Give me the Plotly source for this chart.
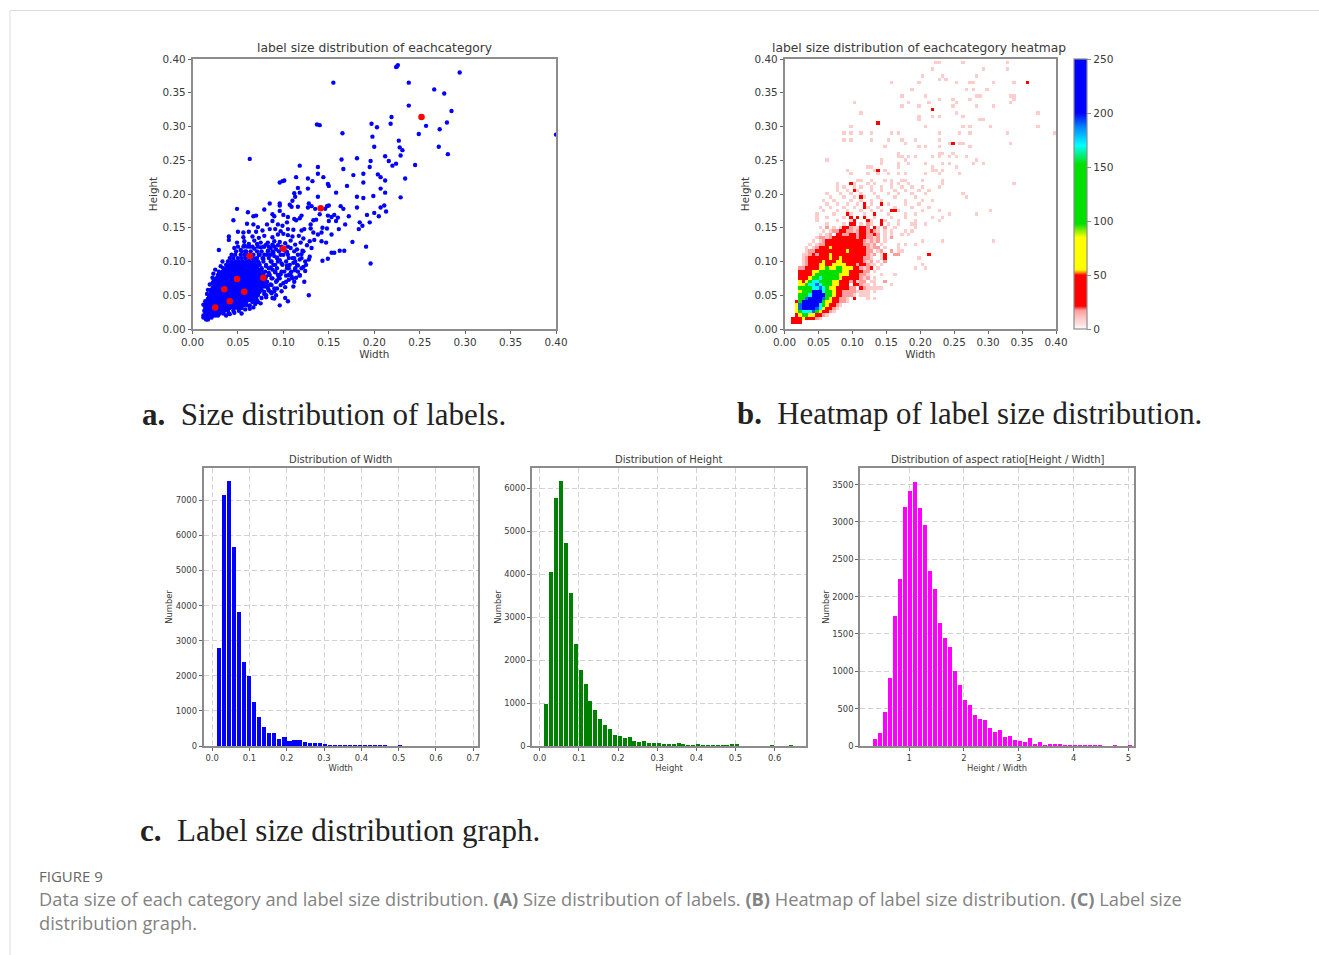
import plotly.graph_objects as go

W, H = 1319, 955

# ---------- Panel a: scatter ----------
scatter_sparse = [
(.224,.388),(.226,.391),(.225,.389),(.294,.380),(.155,.365),(.238,.365),(.266,.355),(.277,.349),(.238,.331),(.285,.323),
(.219,.314),(.218,.304),(.280,.306),(.197,.304),(.203,.299),(.257,.301),(.272,.296),(.137,.303),(.140,.302),(.165,.290),
(.249,.289),(.400,.288),(.198,.285),(.227,.279),(.200,.270),(.271,.270),(.228,.269),(.231,.265),(.063,.252),(.229,.257),
(.212,.256),(.281,.259),(.164,.251),(.181,.253),(.196,.249),(.216,.249),(.224,.245),(.220,.242),(.245,.243),(.118,.242),
(.138,.240),(.195,.240),(.166,.237),(.138,.230),(.188,.230),(.204,.229),(.177,.228),(.207,.225),(.114,.225),(.144,.225),
(.234,.223),(.127,.223),(.132,.219),(.212,.220),(.096,.217),(.099,.219),(.101,.220),(.188,.217),(.149,.215),(.150,.212),
(.170,.212),(.116,.209),(.127,.208),(.207,.208),(.118,.202),(.112,.201),(.158,.202),(.212,.202),(.199,.197),(.181,.196),
(.138,.196),(.229,.195),(.188,.194),(.110,.190),(.113,.196),(.085,.186),(.096,.186),(.096,.183),(.128,.186),(.131,.182),
(.107,.184),(.109,.181),(.116,.181),(.127,.180),(.135,.178),(.148,.182),(.150,.183),(.146,.178),(.163,.182),(.166,.178),
(.181,.180),(.200,.172),(.205,.167),(.207,.180),(.211,.183),(.213,.174),(.049,.178),(.061,.173),(.079,.177),(.070,.168),
(.067,.167),(.088,.170),(.090,.167),(.096,.175),(.100,.169),(.105,.166),(.120,.168),(.112,.163),(.114,.161),(.118,.164),
(.133,.161),(.136,.162),(.140,.170),(.149,.168),(.153,.166),(.156,.169),(.160,.165),(.158,.160),(.172,.167),(.192,.169),
(.045,.161),(.088,.160),(.150,.160),(.168,.155),(.184,.158),(.187,.153),(.195,.158),(.183,.148),(.161,.148),(.060,.156),
(.067,.155),(.072,.151),(.082,.155),(.094,.155),(.099,.153),(.104,.158),(.130,.155),(.143,.150),(.142,.143),(.148,.149),
(.050,.144),(.056,.143),(.062,.144),(.070,.144),(.077,.146),(.085,.148),(.091,.148),(.097,.145),(.123,.148),(.120,.146),
(.105,.148),(.111,.147),(.130,.149),(.133,.143),(.138,.140),(.153,.140),(.040,.137),(.040,.132),(.056,.136),(.066,.137),
(.073,.135),(.079,.138),(.088,.136),(.094,.140),(.100,.141),(.105,.139),(.110,.137),(.117,.138),(.122,.134),(.129,.130),
(.134,.132),(.142,.130),(.147,.128),(.176,.129),(.191,.122),(.049,.128),(.057,.130),(.062,.126),(.068,.131),(.075,.128),
(.083,.128),(.090,.130),(.096,.129),(.102,.127),(.108,.131),(.113,.125),(.119,.128),(.126,.124),(.131,.120),(.162,.116),
(.167,.116),(.153,.113),(.156,.113),(.143,.101),(.149,.104),(.196,.097),(.129,.107),(.128,.103),(.124,.100),(.120,.111),
(.115,.118),(.108,.120),(.092,.118),(.086,.120),(.079,.122),(.068,.119),(.029,.117),(.046,.120),(.111,.098),(.116,.094),
(.104,.094),(.096,.102),(.086,.100),(.090,.108),(.082,.110),(.076,.115),(.100,.110),(.122,.092),(.124,.086),(.123,.070),
(.106,.073),(.112,.070),(.111,.063),(.100,.068),(.095,.076),(.088,.088),(.101,.085),(.128,.050),(.096,.035),(.102,.046),
(.105,.041),(.088,.046),(.092,.050),(.084,.057),(.086,.066),(.093,.060),(.081,.069),(.071,.042),(.067,.032),(.054,.023),
(.073,.098),(.078,.104),(.081,.093),(.084,.083),(.079,.077),(.075,.088),(.071,.093),(.069,.104),(.074,.110),(.083,.116),
(.089,.113),(.093,.106),(.098,.097),(.091,.095),(.086,.091),(.091,.084),(.097,.081),(.093,.072),(.087,.075),(.083,.064),
(.077,.063),(.073,.056),(.079,.052),(.076,.046),(.069,.050),(.064,.043),(.060,.035),(.058,.029),(.051,.027),(.046,.024),
(.041,.022),(.103,.079),(.108,.083),(.113,.087),(.106,.090),(.110,.105),(.104,.114),(.098,.119),(.094,.124),(.088,.125),
(.081,.125),(.075,.121),(.071,.126),(.063,.122),(.057,.124),(.053,.117),(.058,.115),(.118,.103),(.121,.116),(.118,.079),
(.114,.076),(.109,.078),(.102,.062),(.098,.056),(.090,.056),(.087,.053),(.081,.047),(.075,.038),(.069,.037),(.063,.030),
(.033,.100),(.031,.093),(.025,.088),(.023,.082),(.022,.076),(.019,.066),(.017,.058),(.016,.052),(.014,.041),(.012,.036),
]
dense_rows = {
.014: [.015,.017],
.017: [.012,.015,.018,.021],
.020: [.012,.015,.019,.022,.025,.028,.037],
.023: [.014,.017,.020,.023,.027,.030,.034,.040],
.027: [.013,.016,.020,.024,.027,.031,.035,.039,.045],
.031: [.014,.018,.021,.025,.029,.033,.037,.041,.046,.050,.054],
.033: [.016,.019,.023,.027,.031,.035,.039,.043,.048,.052],
.035: [.014,.017,.021,.024,.028,.032,.036,.040,.044,.048,.052,.056,.063],
.038: [.015,.019,.022,.026,.030,.034,.038,.042,.046,.050,.054,.058],
.040: [.016,.019,.023,.027,.031,.035,.039,.043,.047,.051,.055,.059,.066,.072],
.043: [.018,.022,.026,.030,.034,.038,.042,.046,.050,.054,.058,.062,.067],
.045: [.017,.021,.024,.028,.032,.036,.040,.044,.048,.052,.056,.060,.064,.070,.090],
.048: [.019,.022,.026,.030,.034,.038,.042,.046,.050,.054,.058,.062,.066,.070],
.050: [.018,.023,.027,.031,.035,.039,.043,.047,.051,.055,.059,.063,.067,.072,.081],
.053: [.020,.024,.028,.032,.036,.040,.044,.048,.052,.056,.060,.064,.068,.072],
.055: [.021,.025,.029,.033,.037,.041,.045,.049,.053,.057,.061,.065,.069,.074,.079,.086],
.058: [.020,.024,.027,.031,.035,.039,.043,.047,.051,.055,.059,.063,.067,.071,.076],
.060: [.022,.026,.030,.034,.038,.042,.046,.050,.054,.058,.062,.066,.070,.075,.083,.090],
.063: [.023,.027,.031,.035,.039,.043,.047,.051,.055,.059,.063,.067,.071,.076,.080],
.065: [.025,.029,.033,.037,.041,.045,.049,.053,.057,.061,.065,.069,.073,.078,.087,.097],
.068: [.022,.025,.029,.033,.037,.041,.045,.049,.053,.057,.061,.065,.069,.073,.077],
.070: [.023,.027,.031,.035,.039,.043,.047,.051,.055,.059,.063,.067,.071,.076,.082,.092,.103],
.073: [.025,.029,.033,.037,.041,.045,.049,.053,.057,.061,.065,.069,.073,.078],
.075: [.026,.030,.034,.038,.042,.046,.050,.054,.058,.062,.066,.070,.074,.080,.088,.096,.110],
.078: [.028,.032,.036,.040,.044,.048,.052,.056,.060,.064,.068,.072,.076,.081],
.080: [.028,.032,.036,.040,.044,.048,.052,.056,.060,.064,.068,.072,.077,.085,.094,.106,.118],
.083: [.030,.034,.038,.042,.046,.050,.054,.058,.062,.066,.070,.074,.078],
.085: [.029,.033,.037,.041,.045,.049,.053,.057,.061,.065,.069,.073,.080,.091,.098,.109,.116],
.088: [.036,.040,.044,.048,.052,.056,.060,.064,.068,.072,.076],
.090: [.034,.038,.042,.046,.050,.054,.058,.062,.066,.070,.076,.084,.093,.104,.113,.120],
.093: [.039,.043,.047,.051,.055,.059,.063,.067,.071],
.095: [.037,.041,.045,.049,.053,.057,.061,.065,.069,.074,.081,.089,.099,.107,.115,.125],
.098: [.044,.048,.052,.056,.060,.064,.068],
.100: [.039,.043,.047,.051,.055,.059,.063,.067,.072,.078,.087,.094,.103,.113],
.105: [.041,.045,.050,.054,.058,.062,.066,.071,.077,.084,.093,.106,.112,.120],
.110: [.043,.047,.053,.057,.061,.067,.073,.079,.086,.097,.105,.116],
.115: [.048,.054,.059,.064,.071,.083,.088,.095,.103,.112,.122],
.122: [.050,.056,.060,.066,.072,.078,.084,.090,.098,.105],
}
scatter_width = [p[0] for p in scatter_sparse] + [w for h, ws in dense_rows.items() for w in ws]
scatter_height = [p[1] for p in scatter_sparse] + [h for h, ws in dense_rows.items() for w in ws]
mean_width = [.025,.035,.041,.049,.057,.063,.078,.100,.141,.252]
mean_height = [.032,.059,.041,.074,.055,.108,.076,.119,.179,.314]

# ---------- Panel b: heatmap ----------
level_value = {".":0,"a":9,"b":17,"r":35,"y":70,"g":125,"c":170,"l":190,"B":225}
# rows from height 0.155 down to 0.015, columns from width 0.0125 in 0.005 steps
heat_rows = [
"..........a....a.rr.a.ba..r.a..a..",
"........a.b.a.arrbaarrb.ra.b..a...",
".........a.abbrrbbabrrbrba.a.a....",
"........a.ab.rrbbrrbrrbbrb.a.a....",
".......abbabrrrrrrrbrrbbab.a.b....",
"......a.abrrrrrrrrrrrbabab.a......",
".....a.abbrrrrrrrrrrrbbab.a......a",
"....a.abrrryrrrrrrrrrrbabb.a...a..",
"....abbrrrrrrrrryrrrrrbb.ab..b....",
"...aabrbrrryrrrrrrrrrrbab.ar..bb..",
"...abrrrrrryrryrrrrrrbba..ar......",
"...abrrrryrrryyrrrrrrbab.a.b......",
"...abrrryyrryyyyrrrbrrbaa.a.......",
"..bbrrrryygyyggyyyrrbabr.a........",
"..rrrryygggggggyyrrrrbb.a.........",
"..rrrrygggggggyyyrrrbba...a.......",
"..rrryggcgggggyrrrrrbab.a.........",
"..yrygccggggyyrrrbrabb.aa..b......",
"..yygcclcgggyyrrr.rrbaa.a.........",
"..ggggcclcgyyrrrrbb.rbaaaaa.......",
"..ygggBBBcggyrrbbbbaaaa...........",
"..gggcBBBBggyrrbbba.aaa...........",
"..gglBBBBlgyrrbba.r...a...........",
".rgBBBBBBgyyrrbba.................",
".ylBBBBBcgyrrba...................",
".ylBBBBlcyrrba....................",
".ygccclgyrrba.....................",
".ryggyyrrba.......................",
"rrryrrrba.........................",
"rrr...............................",
]
heat_sparse_pale = {
.395: [.222,.227,.262,.325], .385: [.218,.294,.325], .375: [.201,.232,.280], .370: [.228,.237],
.367: [.155,.253,.272,.278,.305,.338], .363: [.195], .355: [.187,.265,.275,.296],
.345: [.172,.207,.285,.290,.330,.335], .340: [.229,.247,.270,.336], .335: [.102,.182,.210,.252,.330],
.328: [.173,.198,.248,.285,.305], .320: [.112,.252,.370], .315: [.195,.215,.228,.263],
.308: [.197,.286,.290,.295], .302: [.095,.205,.260,.370], .298: [.208,.270,.300], .292: [.155,.225,.255],
.288: [.085,.095,.112,.125,.155,.165,.270,.326,.400], .280: [.088,.095,.128,.150,.170,.190,.225],
.273: [.175,.240,.255,.262,.330], .268: [.147,.195,.205,.228,.270], .262: [.165,.225,.232,.245],
.255: [.167,.172,.180,.190,.215,.225,.240,.250,.265], .252: [.062,.140,.175,.285],
.245: [.140,.168,.182,.205,.230,.240,.275,.293], .240: [.120,.128,.165,.215,.252],
.235: [.090,.130,.146,.215,.222,.230], .230: [.095,.120,.135,.150,.165,.175,.205,.225,.255],
.222: [.108,.113,.128,.148,.158,.172,.178,.200,.230], .217: [.075,.100,.120,.130,.155,.165,.180,.235,.335],
.210: [.078,.088,.100,.112,.125,.140,.155,.170,.185,.200,.225], .205: [.075,.090,.105,.128,.145,.160,.178,.195,.210],
.200: [.060,.080,.095,.112,.130,.150,.165,.185,.205,.262], .195: [.065,.085,.103,.118,.135,.160,.190,.265],
.190: [.055,.072,.095,.112,.127,.145,.175,.200,.215], .185: [.060,.078,.090,.108,.125,.150,.178,.195],
.180: [.050,.065,.085,.100,.120,.135,.160,.185,.210], .175: [.058,.075,.093,.110,.128,.145,.165,.200,.225,.303],
.170: [.045,.070,.095,.115,.132,.150,.175,.190,.240,.285], .165: [.046,.060,.085,.105,.130,.158,.178,.215,.235],
.160: [.048,.075,.095,.125,.148,.165,.190,.225], .155: [.185,.190,.205], .150: [.190], .145: [.175,.185],
.140: [.172,.180], .130: [.200,.230,.308], .125: [.165,.190], .115: [.165,.172], .105: [.195], .095: [.200],
.088: [.190,.205], .080: [.160], .065: [.155], .055: [.130], .047: [.130],
}
heat_sparse_red = {
.367: [.355], .303: [.137], .217: [.096], .195: [.110,.112], .180: [.118], .170: [.090,.093,.130],
.235: [.135], .112: [.213], .275: [.245], .323: [.218], .205: [.103], .185: [.115,.140], .175: [.155,.160],
.165: [.095,.108,.115], .160: [.100,.120,.145],
}
heat_x = [round(.0025 + .005 * i, 4) for i in range(80)]
heat_y = [round(.005 * i, 4) for i in range(81)]
heat_z = [[0] * 80 for _ in heat_y]
for r, row in enumerate(heat_rows):
    j = round(.155 / .005) - r
    for c, ch in enumerate(row):
        heat_z[j][c + 2] = level_value[ch]
for rows, val in ((heat_sparse_pale, 9), (heat_sparse_red, 30)):
    for yy, xs in rows.items():
        for xx in xs:
            heat_z[min(round(yy / .005), 80)][min(int(xx / .005), 79)] = val
heat_colors = [
    [0, "#ffffff"], [.02, "#ffdcdc"], [.04, "#ffc8c8"], [.07, "#ff9a9a"], [.085, "#ff0000"], [.2, "#ff0000"], [.21, "#ff9900"],
    [.22, "#ffff00"], [.34, "#ffff00"], [.39, "#00e000"], [.61, "#00e000"], [.68, "#00ffff"], [.75, "#0080ff"],
    [.8, "#0000ff"], [1, "#0000ff"],
]

# ---------- Panel c: histograms ----------
width_counts = [2790,7150,7550,5680,3830,2390,1990,1260,820,550,360,360,210,250,140,180,160,110,85,95,95,30,10,25,10,25,15,5,15,15,15,15,15,10,0,0,20]
height_counts = [980,4050,5780,6170,4730,3560,2380,1770,1450,1050,840,630,480,400,250,240,190,220,110,100,110,80,70,60,40,55,25,60,35,20,20,25,20,15,10,5,5,5,25,25,0,0,0,0,0,0,10,0,0,0,10]
ratio_counts = [90,175,450,910,1740,2240,3200,3415,3535,3190,2965,2340,2100,1650,1450,1320,1010,815,610,550,420,360,345,240,185,215,120,130,75,70,55,105,30,55,10,15,15,15,5,5,5,5,5,5,5,5,0,0,5,0,0,5]
width_bins = [round(.017 + .0135 * i, 4) for i in range(len(width_counts))]
height_bins = [round(.017 + .0125 * i, 4) for i in range(len(height_counts))]
ratio_bins = [round(.374 + .0912 * i, 4) for i in range(len(ratio_counts))]

TXT = "#3a3a3a"
SPINE = "#8c8c8c"
FONT = "DejaVu Sans"

def dom_x(a, b):
    return [a / W, b / W]

def dom_y(top, bottom):
    return [1 - bottom / H, 1 - top / H]

fig = go.Figure()
fig.add_trace(go.Scatter(x=scatter_width, y=scatter_height, mode="markers", marker=dict(color="#0000ff", size=4.4), xaxis="x", yaxis="y", showlegend=False))
fig.add_trace(go.Scatter(x=mean_width, y=mean_height, mode="markers", marker=dict(color="#ff0000", size=6.5), xaxis="x", yaxis="y", showlegend=False))
fig.add_trace(go.Heatmap(x=heat_x, y=heat_y, z=heat_z, zmin=0, zmax=250, colorscale=heat_colors, xaxis="x2", yaxis="y2", xgap=0, ygap=0,
    colorbar=dict(x=1074 / W, xanchor="left", y=1 - 329 / H, yanchor="bottom", lenmode="pixels", len=270, thicknessmode="pixels", thickness=13,
                  xpad=0, ypad=0, tickvals=[0, 50, 100, 150, 200, 250], ticks="outside", ticklen=4, tickcolor=SPINE,
                  tickfont=dict(size=10.6, color=TXT, family=FONT), outlinecolor=SPINE, outlinewidth=1.2)))
fig.add_trace(go.Bar(x=width_bins, y=width_counts, marker=dict(color="#0000ff", line_width=0), width=.0135 * .82, xaxis="x3", yaxis="y3", showlegend=False))
fig.add_trace(go.Bar(x=height_bins, y=height_counts, marker=dict(color="#008000", line_width=0), width=.0125 * .82, xaxis="x4", yaxis="y4", showlegend=False))
fig.add_trace(go.Bar(x=ratio_bins, y=ratio_counts, marker=dict(color="#ff00ff", line_width=0), width=.0912 * .82, xaxis="x5", yaxis="y5", showlegend=False))

def axis(domain, rng, title, size, dtick, fmt, anchor, standoff, grid=False):
    return dict(domain=domain, range=rng, anchor=anchor, dtick=dtick, tick0=0, tickformat=fmt,
                showline=True, mirror=True, linecolor=SPINE, linewidth=1.6,
                ticks="outside", ticklen=3, tickwidth=1, tickcolor="#666666",
                tickfont=dict(size=size, color=TXT, family=FONT),
                title=dict(text=title, font=dict(size=size, color=TXT, family=FONT), standoff=standoff),
                showgrid=grid, gridcolor="#d2d2d2", griddash="5px,3px", gridwidth=1, zeroline=False, automargin=False)

layout = dict(width=W, height=H, margin=dict(l=0, r=0, t=0, b=0, autoexpand=False), paper_bgcolor="white", plot_bgcolor="white", showlegend=False, bargap=0)
layout["xaxis"] = axis(dom_x(192.5, 556), [0, .4], "Width", 10.4, .05, ".2f", "y", 3)
layout["yaxis"] = axis(dom_y(59, 329), [0, .4], "Height", 10.4, .05, ".2f", "x", 2.5)
layout["xaxis2"] = axis(dom_x(784.5, 1056), [0, .4], "Width", 10.4, .05, ".2f", "y2", 3)
layout["yaxis2"] = axis(dom_y(59, 329), [0, .4], "Height", 10.4, .05, ".2f", "x2", 2.5)
layout["xaxis3"] = axis(dom_x(203.5, 478), [-.0233, .713], "Width", 8.4, .1, ".1f", "y3", 2, True)
layout["yaxis3"] = axis(dom_y(468, 746), [0, 7920], "Number", 8.4, 1000, "d", "x3", 1.5, True)
layout["xaxis4"] = axis(dom_x(532, 806), [-.0197, .680], "Height", 8.4, .1, ".1f", "y4", 2, True)
layout["yaxis4"] = axis(dom_y(468, 746), [0, 6472], "Number", 8.4, 1000, "d", "x4", 1.5, True)
layout["xaxis5"] = axis(dom_x(860, 1134), [.105, 5.10], "Height / Width", 8.4, 1, "d", "y5", 2, True)
layout["yaxis5"] = axis(dom_y(468, 746), [0, 3723], "Number", 8.4, 500, "d", "x5", 1.5, True)

def note(x, y, text, size, color=TXT, family=FONT, anchor="center"):
    return dict(xref="paper", yref="paper", x=x / W, y=1 - y / H, text=text, showarrow=False, xanchor=anchor, yanchor="middle",
                align="left", font=dict(size=size, color=color, family=family))

SERIF = "Liberation Serif"
layout["annotations"] = [
    note(374, 48, "label size distribution of eachcategory", 12.3),
    note(919, 48, "label size distribution of eachcategory heatmap", 12.3),
    note(340.5, 459.5, "Distribution of Width", 10),
    note(668.5, 459.5, "Distribution of Height", 10),
    note(997.5, 459.5, "Distribution of aspect ratio[Height / Width]", 10),
    note(140, 414.5, "<b>a.</b>\u2002Size distribution of labels.", 31, "#222222", SERIF, "left"),
    note(735, 414.5, "<b>b.</b>\u2002Heatmap of label size distribution.", 30.8, "#222222", SERIF, "left"),
    note(138, 830.5, "<b>c.</b>\u2002Label size distribution graph.", 31, "#222222", SERIF, "left"),
    note(37, 875.5, "FIGURE 9", 15, "#666666", "Open Sans", "left"),
    note(37, 910, "Data size of each category and label size distribution. <b>(A)</b> Size distribution of labels. <b>(B)</b> Heatmap of label size distribution. <b>(C)</b> Label size<br>distribution graph.", 18.25, "#828282", "Open Sans", "left"),
]
layout["shapes"] = [
    dict(type="line", xref="paper", yref="paper", x0=10 / W, x1=1, y0=1 - 10.5 / H, y1=1 - 10.5 / H, line=dict(color="#dddddd", width=1)),
    dict(type="line", xref="paper", yref="paper", x0=10 / W, x1=10 / W, y0=0, y1=1 - 10.5 / H, line=dict(color="#dddddd", width=1)),
]
fig.update_layout(**layout)
fig.write_html("out.html", config={"displayModeBar": False}, post_script="document.body.style.margin='0';document.body.style.overflow='hidden';")
